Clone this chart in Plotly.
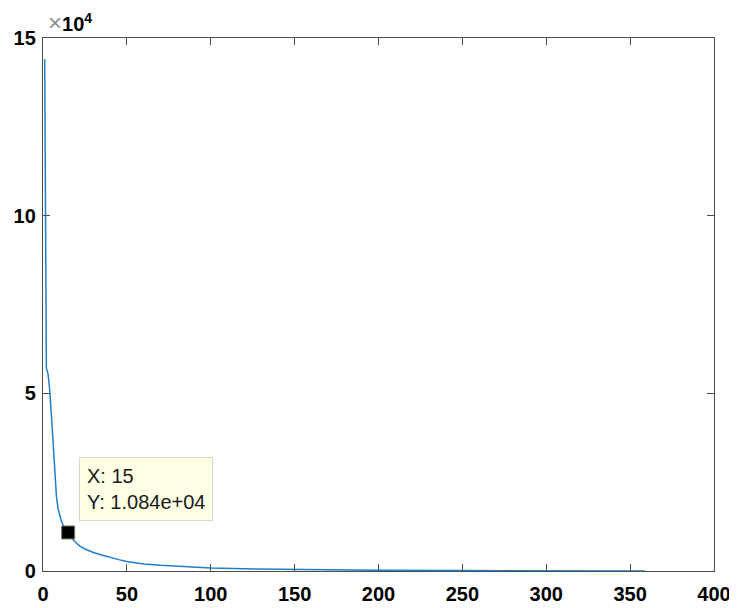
import plotly.graph_objects as go

x_vals = [1, 2, 3, 4, 5, 6, 7, 8, 9, 10, 11, 12, 13, 14, 15, 16, 18, 20, 22, 25,
          30, 35, 40, 45, 50, 60, 70, 80, 90, 100, 120, 140, 160, 180, 200, 250, 300, 359]
y_vals = [144000, 57000, 55500, 51000, 44000, 35000, 27000, 21000, 17500, 15500,
          14000, 12900, 12000, 11400, 10840, 10100, 8800, 7800, 7000, 6200,
          5200, 4500, 3800, 3200, 2700, 2000, 1600, 1300, 1050, 850,
          600, 450, 330, 250, 200, 110, 60, 20]

tip_x = 15
tip_y = 10840
tip_text = "X: 15<br>Y: 1.084e+04"

x_ticks = [0, 50, 100, 150, 200, 250, 300, 350, 400]
y_ticks = [0, 50000, 100000, 150000]
y_tick_text = ["0", "5", "10", "15"]

tick_font = dict(family="Liberation Sans, Arial", size=20, color="black")

fig = go.Figure()
fig.add_trace(go.Scatter(x=x_vals, y=y_vals, mode="lines",
                         line=dict(color="#1f7fcc", width=1.5), hoverinfo="skip"))
fig.add_trace(go.Scatter(x=[tip_x], y=[tip_y], mode="markers",
                         marker=dict(symbol="square", size=13, color="black",
                                     line=dict(color="#7a7a60", width=1)),
                         hoverinfo="skip"))

fig.add_annotation(x=tip_x, y=tip_y, xref="x", yref="y", text=tip_text,
                   showarrow=False, align="left", xanchor="left", yanchor="bottom",
                   xshift=11, yshift=11,
                   bgcolor="#FFFFE6", bordercolor="#D8D8C8", borderwidth=1, borderpad=7,
                   font=dict(family="Liberation Sans, Arial", size=20, color="#1a1a1a"))

fig.add_annotation(xref="paper", yref="paper", x=0.004, y=1.0, xanchor="left", yanchor="bottom",
                   showarrow=False, yshift=0,
                   text="<span style='color:#909090;font-weight:normal;font-size:24px'>×</span><b>10<sup>4</sup></b>",
                   font=dict(family="Liberation Sans, Arial", size=20, color="black"))

axis_common = dict(showline=True, linecolor="#4d4d4d", linewidth=1.3, mirror="ticks",
                   ticks="inside", ticklen=7, tickcolor="#4d4d4d", tickwidth=1,
                   showgrid=False, zeroline=False, tickfont=tick_font, automargin=False,
                   ticklabeloverflow="allow")

fig.update_xaxes(range=[0, 400], tickvals=x_ticks, ticktext=[f"<b>{v}</b>" for v in x_ticks],
                 ticklabelstandoff=5, **axis_common)
fig.update_yaxes(range=[0, 150000], tickvals=y_ticks, ticktext=[f"<b>{t}</b>" for t in y_tick_text],
                 ticklabelstandoff=2, **axis_common)

fig.update_layout(width=729, height=600, showlegend=False,
                  margin=dict(l=35, r=23, t=30, b=37),
                  paper_bgcolor="white", plot_bgcolor="white")

fig.write_html("out.html")
